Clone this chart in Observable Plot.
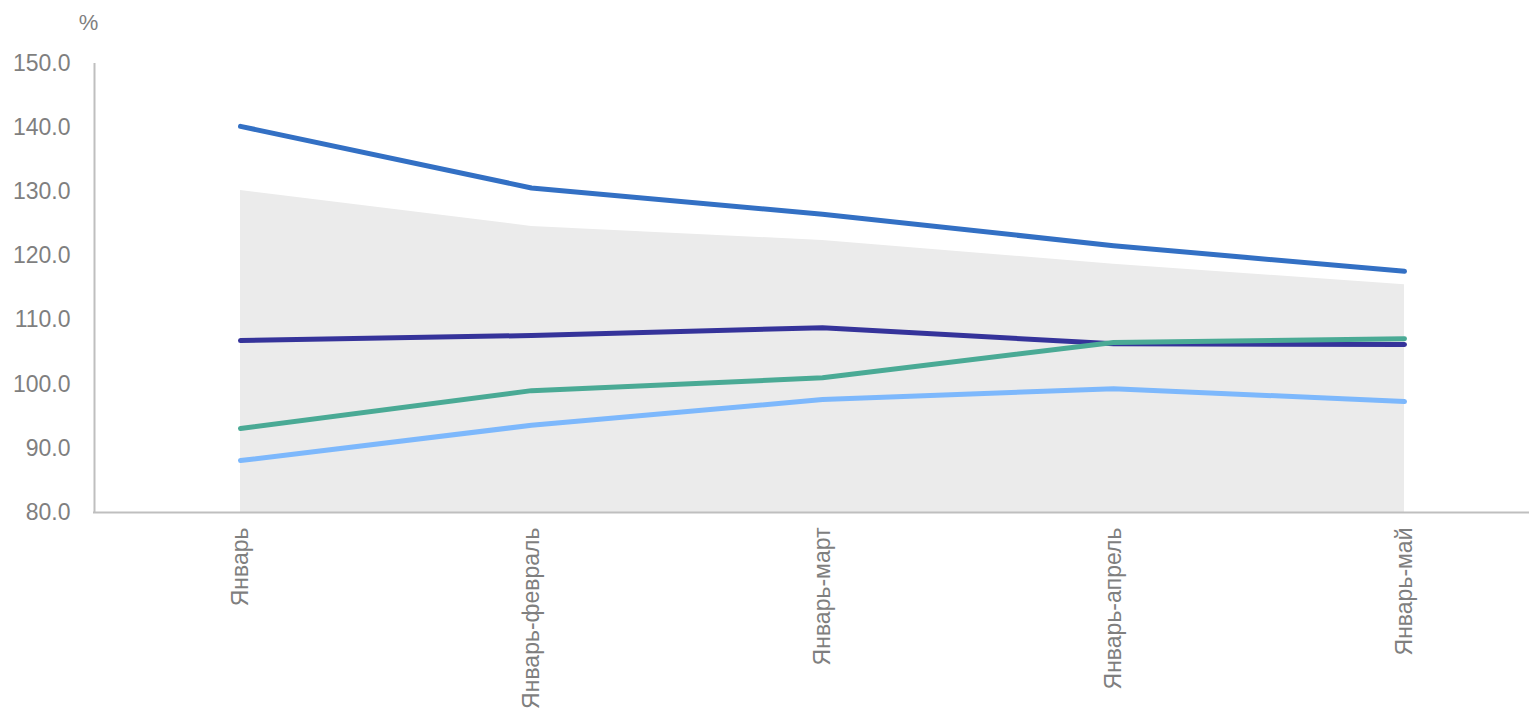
<!DOCTYPE html>
<html><head><meta charset="utf-8">
<script src="https://cdn.jsdelivr.net/npm/d3@7"></script>
<script src="https://cdn.jsdelivr.net/npm/@observablehq/plot@0.6"></script>
<style>
body{margin:0;background:#fff;font-family:"Liberation Sans",Arial,sans-serif;}
</style></head>
<body><div id="chart"></div>
<script>
const periods = ["Январь","Январь-февраль","Январь-март","Январь-апрель","Январь-май"];
const rangeTop = [130.2, 124.6, 122.4, 118.7, 115.5];
const seriesBlue = [140.2, 130.6, 126.5, 121.6, 117.6];
const seriesNavy = [106.8, 107.6, 108.8, 106.3, 106.2];
const seriesTeal = [93.1, 99.0, 101.0, 106.5, 107.1];
const seriesLight = [88.1, 93.6, 97.6, 99.3, 97.3];
const yTicks = [80,90,100,110,120,130,140,150];

const series = [
  {name:"blue", values: seriesBlue, color:"#3370C4"},
  {name:"navy", values: seriesNavy, color:"#35339A"},
  {name:"teal", values: seriesTeal, color:"#4AAA95"},
  {name:"light", values: seriesLight, color:"#7DB8FC"}
];
const areaData = periods.map((p,i)=>({p, v: rangeTop[i]}));
const lineData = series.flatMap(s => periods.map((p,i)=>({p, v:s.values[i], s:s.name})));

const plot = Plot.plot({
  width: 1529, height: 714,
  marginLeft: 93, marginRight: 0, marginTop: 63, marginBottom: 202,
  style: {fontFamily: '"Liberation Sans", Arial, sans-serif', fontSize: "23px", color: "#7f7f7f", background: "#fff"},
  x: {type: "point", domain: periods, range: [238, 1405], padding: 0},
  y: {domain: [80, 150]},
  color: {domain: series.map(s=>s.name), range: series.map(s=>s.color)},
  marks: [
    Plot.areaY(areaData, {x: "p", y1: 80, y2: "v", fill: "#EBEBEB"}),
    Plot.ruleY([80], {stroke: "#BFBFBF", strokeWidth: 2}),
    Plot.ruleX([periods[0]], {dx: -146, y1: 80, y2: 150, stroke: "#BFBFBF", strokeWidth: 2}),
    Plot.line(lineData, {x: "p", y: "v", z: "s", stroke: "s", strokeWidth: 5, strokeLinecap: "round", strokeLinejoin: "round"}),
    Plot.axisY({ticks: yTicks, tickFormat: d => d.toFixed(1), tickSize: 0, tickPadding: 23, label: null, fill: "#7f7f7f", fontSize: 23}),
    Plot.axisX({tickRotate: -90, tickSize: 0, tickPadding: 15, label: null, fill: "#7f7f7f", fontSize: 23}),
    Plot.text(["%"], {frameAnchor: "top-left", dx: -5, dy: -41, lineAnchor: "middle", text: d => d, fill: "#7f7f7f", fontSize: 22, textAnchor: "middle"})
  ]
});
document.getElementById("chart").appendChild(plot);
</script></body></html>
